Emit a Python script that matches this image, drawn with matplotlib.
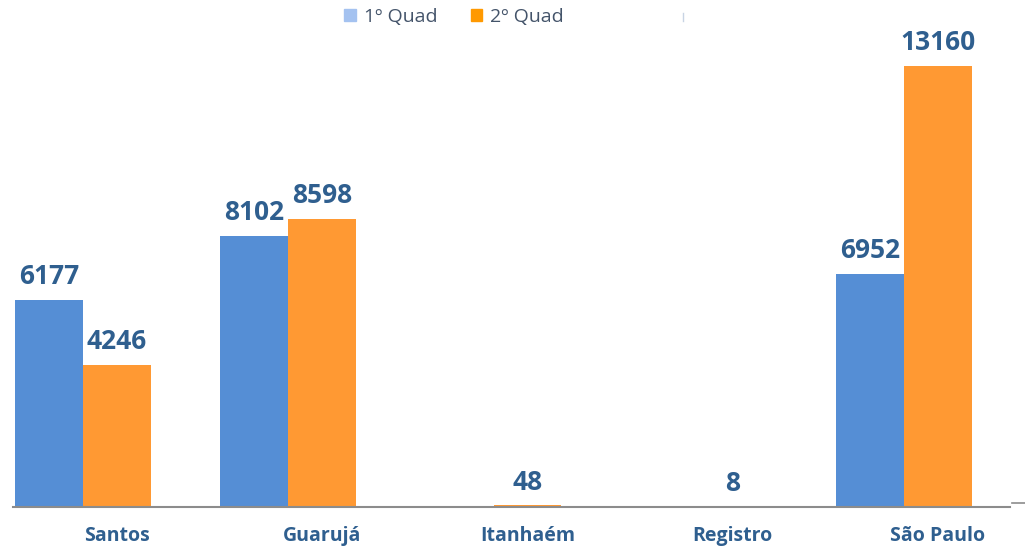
import matplotlib.pyplot as plt
from matplotlib.lines import Line2D
from matplotlib.patches import Patch
import numpy as np

cidades = ["Santos", "Guarujá", "Itanhaém", "Registro", "São Paulo"]
quad1 = [6177, 8102, None, None, 6952]
quad2 = [4246, 8598, 48, 8, 13160]
series_names = ["1º Quad", "2º Quad"]

BLUE = "#558ed5"
ORANGE = "#ff9933"
LABEL_COLOR = "#2f5f8f"

plt.rcParams["font.family"] = ["Open Sans", "DejaVu Sans"]

fig = plt.figure(figsize=(10.25, 5.48), dpi=100)
ax = fig.add_axes([13 / 1025, 41 / 548, 997 / 1025, 487 / 548])

x = np.arange(len(cidades))
w = 0.331

for i, (v1, v2) in enumerate(zip(quad1, quad2)):
    if v1 is not None:
        ax.bar(x[i] - w / 2, v1, w, color=BLUE)
        ax.annotate(str(v1), (x[i] - w / 2, v1), xytext=(0, 7), textcoords="offset points",
                    ha="center", va="bottom", fontsize=19, fontweight="bold", color=LABEL_COLOR)
    if v2 is not None:
        ax.bar(x[i] + w / 2, v2, w, color=ORANGE)
        ax.annotate(str(v2), (x[i] + w / 2, v2), xytext=(0, 7), textcoords="offset points",
                    ha="center", va="bottom", fontsize=19, fontweight="bold", color=LABEL_COLOR)

ax.set_xlim(-0.341, 4.516)
ax.set_ylim(0, 14533)
ax.set_xticks(x + w / 2)
ax.set_xticklabels(cidades, fontsize=14, fontweight="bold", color=LABEL_COLOR)
ax.tick_params(axis="x", length=0, pad=14)
ax.set_yticks([])
for s in ["top", "right", "left"]:
    ax.spines[s].set_visible(False)
ax.spines["bottom"].set_color("#8c8c8c")
ax.spines["bottom"].set_linewidth(1.5)

handles = [Patch(color="#a4c2f0"), Patch(color="#ff9900")]
fig.legend(handles, series_names, loc="upper center", bbox_to_anchor=(0.443, 1.018), ncol=2,
           frameon=False, fontsize=14, labelcolor="#44546a", handlelength=0.6,
           handleheight=0.6, handletextpad=0.4, columnspacing=1.7)

# small stray marks from the original
fig.add_artist(Line2D([683 / 1025, 683 / 1025], [1 - 13 / 548, 1 - 21 / 548], color="#c8d4e4", lw=1))
fig.add_artist(Line2D([1012 / 1025, 1025 / 1025], [1 - 503 / 548, 1 - 503 / 548], color="#8c8c8c", lw=1.2))

fig.savefig("out.png", dpi=100)
